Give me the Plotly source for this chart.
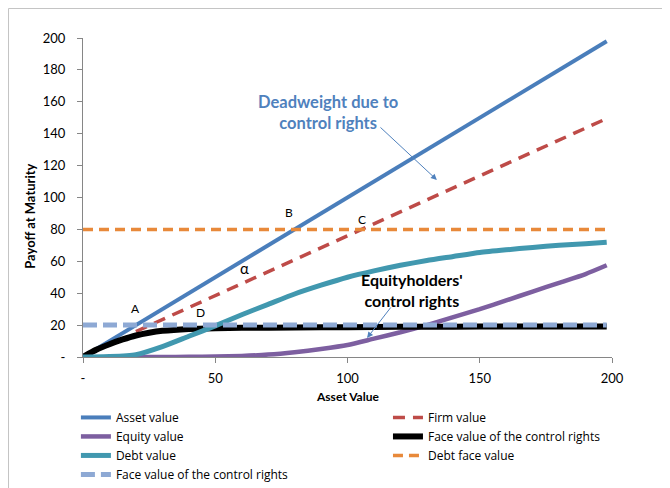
import plotly.graph_objects as go

# ---- data ----
x_grid = [0, 10, 20, 30, 40, 50, 60, 70, 80, 90, 100, 110, 120, 130, 140, 150, 160, 170, 180, 190, 198]
asset_value = [0, 10, 20, 30, 40, 50, 60, 70, 80, 90, 100, 110, 120, 130, 140, 150, 160, 170, 180, 190, 198]

firm_x = [20, 30, 40, 50, 60, 70, 80, 90, 100, 110, 120, 130, 140, 150, 160, 170, 180, 190, 198]
firm_value = [16, 23.5, 31, 38.5, 46, 53.5, 61, 68.5, 76, 83.5, 91, 98.5, 106, 113.5, 121, 128.5, 136, 143.5, 149.5]

equity_x = [20, 30, 40, 50, 60, 70, 80, 90, 100, 110, 120, 130, 140, 150, 160, 170, 180, 190, 198]
equity_value = [0, 0, 0.1, 0.3, 0.7, 1.5, 3, 5, 7.5, 11.5, 15.5, 20, 25, 30, 35.5, 41, 46.5, 52, 57.5]

control_x = [0, 5, 10, 15, 20, 25, 30, 40, 50, 60, 80, 100, 120, 140, 160, 180, 198]
control_value = [0, 4.5, 8, 11, 13.5, 15.2, 16.4, 17.6, 18.1, 18.3, 18.5, 18.7, 18.9, 19.0, 19.1, 19.2, 19.2]

debt_value = [0, 0.3, 1.5, 6.5, 13, 19.5, 26.5, 33, 39.5, 45, 50, 54, 57.5, 60.5, 63, 65.5, 67.2, 68.7, 70, 71, 72]

face_x = [0, 198]
debt_face_value = [80, 80]
control_face_value = [20, 20]

y_ticks = [0, 20, 40, 60, 80, 100, 120, 140, 160, 180, 200]
y_tick_text = ["-", "20", "40", "60", "80", "100", "120", "140", "160", "180", "200"]
x_ticks = [0, 50, 100, 150, 200]
x_tick_text = ["-", "50", "100", "150", "200"]

FONT = "Lato, Open Sans, sans-serif"
LEG_FONT = "Open Sans, Lato, sans-serif"

fig = go.Figure()
fig.add_trace(go.Scatter(x=x_grid, y=asset_value, mode="lines", name="Asset value",
                         line=dict(color="#4A7EBB", width=4), legend="legend"))
fig.add_trace(go.Scatter(x=firm_x, y=firm_value, mode="lines", name="Firm value",
                         line=dict(color="#BE4B48", width=3.5, dash="12px,8px"), legend="legend2"))
fig.add_trace(go.Scatter(x=equity_x, y=equity_value, mode="lines", name="Equity value",
                         line=dict(color="#7D5FA0", width=4.5, shape="spline", smoothing=0.6), legend="legend"))
fig.add_trace(go.Scatter(x=control_x, y=control_value, mode="lines", name="Face value of the control rights",
                         line=dict(color="#000000", width=6, shape="spline", smoothing=0.6), legend="legend2"))
fig.add_trace(go.Scatter(x=x_grid, y=debt_value, mode="lines", name="Debt value",
                         line=dict(color="#4198AF", width=5, shape="spline", smoothing=0.6), legend="legend"))
fig.add_trace(go.Scatter(x=face_x, y=debt_face_value, mode="lines", name="Debt face value",
                         line=dict(color="#E8893A", width=3.5, dash="10px,6px"), legend="legend2"))
fig.add_trace(go.Scatter(x=face_x, y=control_face_value, mode="lines", name="Face value of the control rights",
                         line=dict(color="#8EA9D4", width=5, dash="14px,6px"), legend="legend"))

annotations = [
    dict(x=19.7, y=30.7, text="A", showarrow=False, font=dict(size=12, color="#000")),
    dict(x=77.9, y=90.9, text="B", showarrow=False, font=dict(size=12, color="#000")),
    dict(x=105.5, y=85.9, text="C", showarrow=False, font=dict(size=12, color="#000")),
    dict(x=44.6, y=27.6, text="D", showarrow=False, font=dict(size=12, color="#000")),
    dict(x=61.2, y=55.8, text="α", showarrow=False, font=dict(size=15, color="#000")),
    dict(x=92.6, y=153.6, text="<b>Deadweight due to<br>control rights</b>", showarrow=False,
         font=dict(size=16.5, color="#4F81BD")),
    dict(x=133.8, y=111, ax=111.9, ay=144.8, axref="x", ayref="y", text="", showarrow=True,
         arrowhead=2, arrowsize=1.2, arrowwidth=1, arrowcolor="#4F81BD"),
    dict(x=124.4, y=42, text="<b>Equityholders'<br>control rights</b>", showarrow=False,
         font=dict(size=16, color="#000")),
    dict(x=107.4, y=11.9, ax=116.8, ay=32, axref="x", ayref="y", text="", showarrow=True,
         arrowhead=2, arrowsize=1.2, arrowwidth=1, arrowcolor="#4F81BD"),
    dict(xref="paper", yref="paper", x=-0.100, y=0.44, xanchor="center", yanchor="middle",
         text="<b>Payoff at Maturity</b>", textangle=-90,
         showarrow=False, font=dict(size=13, color="#000")),
    dict(xref="paper", yref="paper", x=0.5, y=-0.125, xanchor="center", yanchor="middle",
         text="<b>Asset Value</b>", showarrow=False, font=dict(size=12, color="#000")),
]

fig.update_layout(
    width=670, height=488,
    margin=dict(l=75, r=66, t=30, b=139, autoexpand=False),
    paper_bgcolor="white", plot_bgcolor="white",
    font=dict(family=FONT, size=13, color="#000"),
    annotations=annotations,
    legend=dict(x=-0.0134, y=-0.144, xanchor="left", yanchor="top", orientation="v",
                font=dict(family=LEG_FONT, size=12), bgcolor="rgba(0,0,0,0)", tracegroupgap=0, itemwidth=30),
    legend2=dict(x=0.5765, y=-0.144, xanchor="left", yanchor="top", orientation="v",
                 font=dict(family=LEG_FONT, size=12), bgcolor="rgba(0,0,0,0)", tracegroupgap=0, itemwidth=30),
    shapes=[
        dict(type="line", xref="paper", yref="paper", x0=-0.1408, x1=1.2, y0=1.0925, y1=1.0925,
             line=dict(color="#C4C4C4", width=1)),
        dict(type="line", xref="paper", yref="paper", x0=-0.1408, x1=-0.1408, y0=1.0925, y1=-0.45,
             line=dict(color="#C4C4C4", width=1)),
    ],
)
fig.update_xaxes(range=[0, 200], tickvals=x_ticks, ticktext=x_tick_text, showgrid=False, zeroline=False,
                 showline=True, linecolor="#868686", linewidth=1, ticks="outside", ticklen=5,
                 tickcolor="#868686", tickfont=dict(size=13, color="#000"), ticklabelstandoff=4,
                 automargin=False)
fig.update_yaxes(range=[0, 200], tickvals=y_ticks, ticktext=y_tick_text, showgrid=False, zeroline=False,
                 showline=True, linecolor="#868686", linewidth=1, ticks="outside", ticklen=5,
                 tickcolor="#868686", tickfont=dict(size=13, color="#000"), ticklabelstandoff=9,
                 automargin=False)

fig.write_html("out.html")
